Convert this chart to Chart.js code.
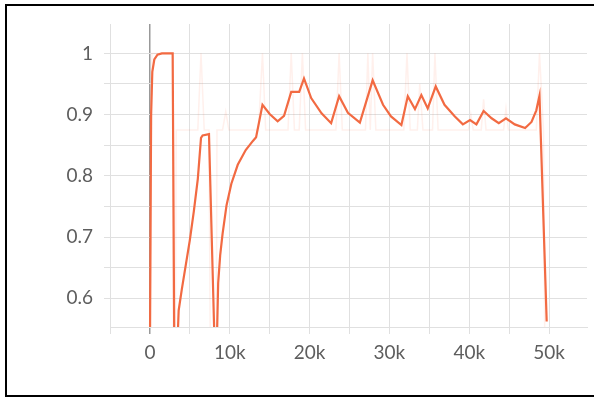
<!DOCTYPE html>
<html>
<head>
<meta charset="utf-8">
<script src="https://cdn.jsdelivr.net/npm/chart.js@4.4.1/dist/chart.umd.min.js"></script>
<style>
  html, body { margin: 0; padding: 0; background: #fff; overflow: hidden; }
  #wrap { position: relative; width: 594px; height: 398px; }
  #frame { position: absolute; left: 5px; top: 4px; width: 600px; height: 389px; border: 2px solid #000; }
  #c { position: absolute; left: 0; top: 0; }
</style>
</head>
<body>
<div id="wrap">
  <div id="frame"></div>
  <canvas id="c" width="594" height="398"></canvas>
</div>
<script>
// smoothed curve (step, value)
const smoothSteps = [0, 150, 300, 550, 950, 1500, 2850, 3100, 3600, 4000, 4500, 5000, 5500, 6000, 6400, 6600, 7400,
  8250, 8550, 8800, 9100, 9600, 10200, 11000, 12000, 12900, 13300, 14100, 15000, 16000, 16800, 17700, 18700, 19300,
  20200, 21500, 22700, 23700, 24800, 26300, 27900, 29200, 30200, 31500, 32300, 33200, 34000, 34800, 35800,
  36900, 38200, 39200, 40100, 40900, 41800, 42800, 43700, 44600, 45700, 47000, 47800, 48400, 48800, 49700];
const smoothValues = [0.50, 0.90, 0.97, 0.99, 0.998, 1.0, 1.0, 0.40, 0.58, 0.615, 0.655, 0.695, 0.742, 0.795, 0.862, 0.866, 0.868,
  0.45, 0.625, 0.67, 0.705, 0.752, 0.787, 0.818, 0.842, 0.857, 0.863, 0.916, 0.901, 0.889, 0.898, 0.937, 0.937, 0.959,
  0.927, 0.902, 0.886, 0.930, 0.903, 0.887, 0.956, 0.916, 0.897, 0.883, 0.930, 0.909, 0.932, 0.910, 0.946,
  0.916, 0.897, 0.884, 0.891, 0.884, 0.906, 0.894, 0.886, 0.894, 0.884, 0.878, 0.888, 0.907, 0.931, 0.562];

// raw values (faint)
const rawSteps = [0, 250, 2850, 3000, 3300, 6000, 6400, 6800, 7400, 7800, 8200, 8400, 9100, 9500, 9900, 13600, 14100, 14500,
  17300, 17700, 18100, 18700, 19100, 19500, 23300, 23700, 24100, 27000, 27300, 27600, 27900, 28300, 31800, 32200, 32600,
  33500, 33800, 34200, 35400, 35700, 36100, 39900, 40200, 40500, 41500, 41800, 42100, 44300, 44600, 44900, 48400, 48800, 49300, 49700];
const rawValues = [0.5, 1.0, 1.0, 0.0, 0.875, 0.875, 1.0, 0.875, 0.875, 0.0, 0.0, 0.875, 0.875, 0.905, 0.875, 0.875, 1.0, 0.875,
  0.875, 1.0, 0.875, 0.875, 1.0, 0.875, 0.875, 1.0, 0.875, 0.875, 1.0, 0.875, 1.0, 0.875, 0.875, 1.0, 0.875,
  0.875, 0.95, 0.875, 0.875, 1.0, 0.875, 0.875, 0.9, 0.875, 0.875, 0.925, 0.875, 0.875, 0.91, 0.875, 0.875, 1.0, 0.875, 0.0];

const xTicks = [-5000, 0, 5000, 10000, 15000, 20000, 25000, 30000, 35000, 40000, 45000, 50000];
const yTicks = [0.6, 0.65, 0.7, 0.75, 0.8, 0.85, 0.9, 0.95, 1.0];

const pts = (xs, ys) => xs.map((x, i) => ({ x: x, y: ys[i] }));
const gridCol = '#e0e0e0';
const tickFont = { family: 'Lato', size: 19 };

new Chart(document.getElementById('c'), {
  type: 'line',
  data: {
    datasets: [
      { label: 'smoothed', data: pts(smoothSteps, smoothValues), borderColor: '#f26a42', borderWidth: 2.2,
        pointRadius: 0, tension: 0, order: 0 },
      { label: 'raw', data: pts(rawSteps, rawValues), borderColor: 'rgba(255,112,67,0.1)', borderWidth: 1.5,
        pointRadius: 0, tension: 0, order: 1 }
    ]
  },
  options: {
    responsive: false,
    animation: false,
    layout: { padding: { left: 0, top: 24, right: 7, bottom: 0 } },
    plugins: { legend: { display: false }, tooltip: { enabled: false } },
    scales: {
      x: {
        type: 'linear', min: -5000, max: 54750,
        afterBuildTicks: ax => { ax.ticks = xTicks.map(v => ({ value: v })); },
        afterFit: s => { s.height = 71; },
        grid: {
          color: c => (c.tick && c.tick.value === 0) ? '#999' : gridCol,
          lineWidth: c => (c.tick && c.tick.value === 0) ? 1.5 : 1,
          tickLength: 7
        },
        border: { color: gridCol },
        ticks: {
          autoSkip: false, maxRotation: 0, padding: 7, color: '#5e5e5e', font: tickFont,
          callback: v => v === 0 ? '0' : (v % 10000 === 0 && v > 0 ? (v / 1000) + 'k' : '')
        }
      },
      y: {
        type: 'linear', min: 0.553, max: 1.048,
        afterBuildTicks: ax => { ax.ticks = yTicks.map(v => ({ value: v })); },
        afterFit: s => { s.width = 110; },
        grid: { color: gridCol, tickLength: 6 },
        border: { color: gridCol },
        ticks: {
          padding: 11, color: '#5e5e5e', font: tickFont,
          callback: v => {
            const r = Math.round(v * 10) / 10;
            if (Math.abs(v - r) > 1e-6) return '';
            return r === 1 ? '1' : r.toFixed(1);
          }
        }
      }
    }
  }
});
</script>
</body>
</html>
